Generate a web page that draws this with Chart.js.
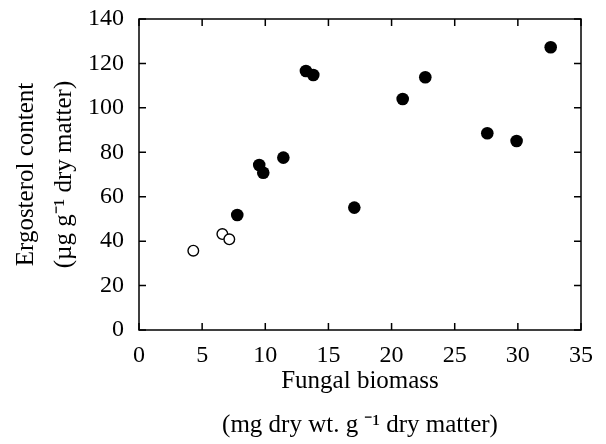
<!DOCTYPE html>
<html>
<head>
<meta charset="utf-8">
<script src="https://cdn.jsdelivr.net/npm/chart.js@4"></script>
<style>
html,body{margin:0;padding:0;background:#fff;}
#wrap{width:606px;height:444px;}
</style>
</head>
<body>
<div id="wrap"><canvas id="c" width="606" height="444"></canvas></div>
<script>
const openX = [4.30, 6.60, 7.15];
const openY = [35.7, 43.2, 40.8];
const filledX = [7.78, 9.52, 9.84, 11.43, 13.22, 13.80, 17.05, 20.88, 22.67, 27.58, 29.90, 32.60];
const filledY = [51.8, 74.3, 70.8, 77.6, 116.6, 114.8, 55.1, 104.0, 113.8, 88.6, 85.1, 127.3];
const xTicks = [0, 5, 10, 15, 20, 25, 30, 35];
const yTicks = [0, 20, 40, 60, 80, 100, 120, 140];
const xTitle = ['Fungal biomass', '(mg dry wt. g \u207B\u00B9 dry matter)'];
const yTitle = ['Ergosterol content', '(\u00B5g g\u207B\u00B9 dry matter)'];

const FONT = 'Liberation Serif, Times New Roman, serif';

const framePlugin = {
  id: 'frame',
  afterDraw(chart) {
    const {ctx, chartArea: a, scales} = chart;
    ctx.save();
    ctx.strokeStyle = '#000';
    ctx.lineWidth = 1.5;
    ctx.strokeRect(a.left, a.top, a.right - a.left, a.bottom - a.top);
    const L = 7;
    ctx.beginPath();
    xTicks.forEach(v => {
      const px = scales.x.getPixelForValue(v);
      ctx.moveTo(px, a.bottom); ctx.lineTo(px, a.bottom - L);
      ctx.moveTo(px, a.top); ctx.lineTo(px, a.top + L);
    });
    yTicks.forEach(v => {
      const py = scales.y.getPixelForValue(v);
      ctx.moveTo(a.left, py); ctx.lineTo(a.left + L, py);
      ctx.moveTo(a.right, py); ctx.lineTo(a.right - L, py);
    });
    ctx.stroke();
    ctx.restore();
  }
};

new Chart(document.getElementById('c'), {
  type: 'scatter',
  data: {
    datasets: [
      {
        label: 'open',
        data: openX.map((x, i) => ({x, y: openY[i]})),
        pointRadius: 5.3,
        pointBackgroundColor: '#fff',
        pointBorderColor: '#000',
        pointBorderWidth: 1.4
      },
      {
        label: 'filled',
        data: filledX.map((x, i) => ({x, y: filledY[i]})),
        pointRadius: 6.3,
        pointBackgroundColor: '#000',
        pointBorderColor: '#000',
        pointBorderWidth: 0
      }
    ]
  },
  options: {
    responsive: false,
    animation: false,
    layout: {padding: {top: 19, right: 25, left: 0, bottom: 0}},
    plugins: {legend: {display: false}, tooltip: {enabled: false}},
    scales: {
      x: {
        type: 'linear',
        min: 0, max: 35,
        afterFit(s) { s.height = 114; s.paddingLeft = 0; s.paddingRight = 0; },
        afterBuildTicks(s) { s.ticks = xTicks.map(v => ({value: v})); },
        grid: {display: false, drawTicks: false},
        border: {display: false},
        ticks: {color: '#000', padding: 11, font: {family: FONT, size: 24}},
        title: {
          display: true, text: xTitle, color: '#000',
          font: {family: FONT, size: 25, lineHeight: '44px'},
          padding: {top: 0, bottom: -3}
        }
      },
      y: {
        type: 'linear',
        min: 0, max: 140,
        afterFit(s) { s.width = 139; s.paddingTop = 0; s.paddingBottom = 0; },
        afterBuildTicks(s) { s.ticks = yTicks.map(v => ({value: v})); },
        grid: {display: false, drawTicks: false},
        border: {display: false},
        ticks: {color: '#000', padding: 15, font: {family: FONT, size: 24}},
        title: {
          display: true, text: yTitle, color: '#000',
          font: {family: FONT, size: 25, lineHeight: '38px'},
          padding: {top: 7, bottom: 0}
        }
      }
    }
  },
  plugins: [framePlugin]
});
</script>
</body>
</html>
